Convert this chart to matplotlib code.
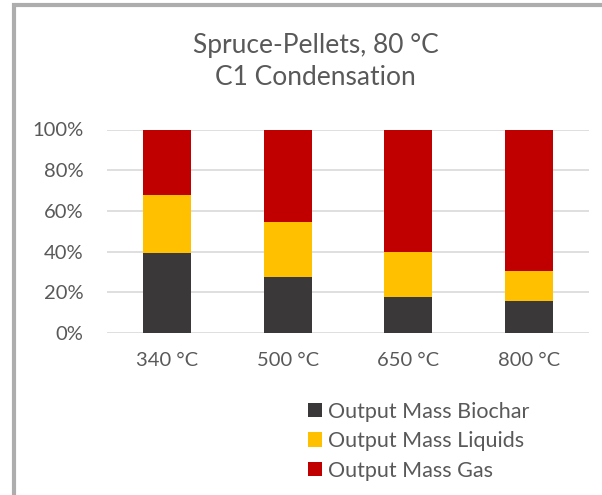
import matplotlib.pyplot as plt
import matplotlib.patches as patches
import numpy as np

plt.rcParams['font.family'] = ['Lato', 'DejaVu Sans']

temps = ['340 °C', '500 °C', '650 °C', '800 °C']
biochar = [39.5, 27.7, 17.5, 15.6]
liquids = [28.5, 27.0, 22.3, 14.9]
gas = [32.0, 45.3, 60.2, 69.5]
series_names = ['Output Mass Biochar', 'Output Mass Liquids', 'Output Mass Gas']
title_lines = ['Spruce-Pellets, 80 °C', 'C1 Condensation']

colors = ['#3A3838', '#FFC000', '#C00000']
txt_c = '#595959'

W, H = 602, 495
fig = plt.figure(figsize=(W / 100, H / 100), dpi=100)
ax = fig.add_axes([107 / W, 1 - 333 / H, 482 / W, 203.5 / H])

x = np.arange(len(temps))
b = np.array(biochar) / 100
l = np.array(liquids) / 100
g = np.array(gas) / 100
ax.bar(x, b, 0.4, color=colors[0], label=series_names[0], zorder=3)
ax.bar(x, l, 0.4, bottom=b, color=colors[1], label=series_names[1], zorder=3)
ax.bar(x, g, 0.4, bottom=b + l, color=colors[2], label=series_names[2], zorder=3)

ax.set_xlim(-0.5, len(temps) - 0.5)
ax.set_ylim(0, 1)
ax.set_yticks(np.arange(0, 1.01, 0.2))
ax.set_yticklabels([f'{int(round(v * 100))}%' for v in np.arange(0, 1.01, 0.2)])
ax.set_xticks(x)
ax.set_xticklabels(temps)
ax.yaxis.grid(True, color='#D9D9D9', lw=1.2, zorder=0)
ax.set_axisbelow(True)
for s in ax.spines.values():
    s.set_visible(False)
ax.tick_params(axis='both', length=0, labelsize=14.5, colors=txt_c)
ax.tick_params(axis='y', pad=17)
ax.tick_params(axis='x', pad=14)

# chart title (two lines)
fig.text(315.5 / W, 1 - 53 / H, title_lines[0], ha='center', va='baseline',
         fontsize=19, color=txt_c)
fig.text(315.5 / W, 1 - 85 / H, title_lines[1], ha='center', va='baseline',
         fontsize=19, color=txt_c)

leg = fig.legend(loc='upper left', bbox_to_anchor=(308 / W, 1 - 401.5 / H),
                 frameon=False, fontsize=15.5, handlelength=0.65, handleheight=0.65,
                 handletextpad=0.3, labelspacing=0.45, borderpad=0, borderaxespad=0)
for t in leg.get_texts():
    t.set_color(txt_c)

# chart area border (cropped at right/bottom)
fig.patches.append(patches.Rectangle((13.5 / W, -0.1), 1.2, 1 - 5 / H + 0.1,
                                     transform=fig.transFigure, fill=False,
                                     edgecolor='#ADADAD', lw=3))

fig.savefig('out.png', dpi=100)
